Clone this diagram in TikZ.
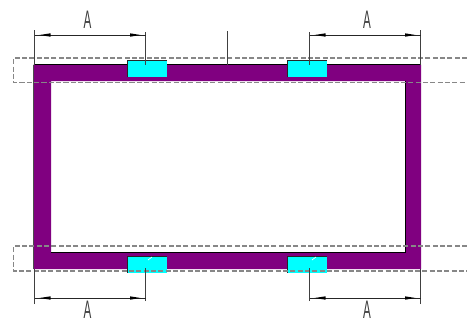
\documentclass[tikz,border=0pt]{standalone}
\usepackage{fontspec}
\setmainfont{Liberation Sans}
\definecolor{wall}{RGB}{128,0,128}
\definecolor{pad}{RGB}{0,255,255}
\definecolor{dashgrey}{RGB}{135,135,135}
\tikzset{
  x=0.75pt,y=-0.75pt,
  padbox/.style={fill=pad,draw=none,minimum width=29.25pt,minimum height=12.4pt,inner sep=0pt,outer sep=0pt,anchor=north west},
  dimlabel/.style={inner sep=0pt,text=black!75,font=\fontsize{19}{19}\selectfont},
  extline/.style={draw=black!75,line width=0.6pt},
  dimline/.style={draw=black!85,line width=0.6pt},
  dashline/.style={draw=dashgrey,line width=0.8pt,dash pattern=on 3.8pt off 1.7pt},
  padedge/.style={draw=black!85,line width=0.5pt},
  head/.style={fill=black,draw=none},
}
\begin{document}
\begin{tikzpicture}
\useasboundingbox (0,0) rectangle (467,322);
% frame
\fill[wall,even odd rule] (33.5,64.5) rectangle (421,269) (51,81) rectangle (405,252);
\draw[black,line width=0.7pt] (33.5,64.5) -- (421,64.5);
\draw[black!70,line width=0.5pt] (33.5,64.5) -- (33.5,269);
\draw[black,line width=0.7pt] (51,252) -- (405,252) -- (405,81);
% cyan pads
\node[padbox] (p1) at (127.7,60.5) {};
\node[padbox] (p2) at (287.7,60.5) {};
\node[padbox] (p3) at (127.7,256) {};
\node[padbox] (p4) at (287.7,256) {};
\draw[padedge] (p1.south west) -- (p1.north west) -- (p1.north east);
\draw[padedge] (p2.south west) -- (p2.north west) -- (p2.north east);
\draw[padedge] (p3.south west) -- (p3.north west) -- (p3.north east);
\draw[padedge] (p4.south west) -- (p4.north west) -- (p4.north east);
\draw[white,line width=0.5pt] (148,260) -- (152,257);
\draw[white,line width=0.5pt] (312,260) -- (316,257);
% dashed band outlines
\draw[dashline] (467,58) -- (13.5,58) -- (13.5,82.5) -- (467,82.5);
\draw[dashline] (467,246) -- (13.5,246) -- (13.5,271) -- (467,271);
% extension lines
\coordinate (tl1) at (34.5,30);  \coordinate (tl1e) at (34.5,65);
\coordinate (tl2) at (145.5,32); \coordinate (tl2e) at (145.5,65);
\coordinate (tc)  at (227.5,31); \coordinate (tce)  at (227.5,65);
\coordinate (tr1) at (309.5,32); \coordinate (tr1e) at (309.5,65);
\coordinate (tr2) at (420.5,30); \coordinate (tr2e) at (420.5,65);
\coordinate (bl1) at (34.5,304);  \coordinate (bl1e) at (34.5,269);
\coordinate (bl2) at (145.5,301); \coordinate (bl2e) at (145.5,268);
\coordinate (br1) at (309.5,301); \coordinate (br1e) at (309.5,268);
\coordinate (br2) at (420.5,304); \coordinate (br2e) at (420.5,269);
\foreach \a/\b in {tl1/tl1e,tl2/tl2e,tc/tce,tr1/tr1e,tr2/tr2e,bl1/bl1e,bl2/bl2e,br1/br1e,br2/br2e}{
  \draw[extline] (\a) -- (\b);
}
% dimension lines and heads
\foreach \xa/\xb/\yy in {34.5/146/35,309.5/421/35,34.5/146/298,309.5/421/298}{
  \draw[dimline] (\xa,\yy) -- (\xb,\yy);
  \fill[head] (\xa+5,\yy) -- (\xa+16,\yy-1.7) -- (\xa+16,\yy+1.7) -- cycle;
  \fill[head] (\xb-5.5,\yy) -- (\xb-16,\yy-1.7) -- (\xb-16,\yy+1.7) -- cycle;
}
% labels
\node[dimlabel] (a1) at (87.5,19.5) {\scalebox{0.46}[1]{A}};
\node[dimlabel] (a2) at (367,19.5) {\scalebox{0.46}[1]{A}};
\node[dimlabel] (a3) at (87.5,309.5) {\scalebox{0.46}[1]{A}};
\node[dimlabel] (a4) at (367,309.5) {\scalebox{0.46}[1]{A}};
\end{tikzpicture}
\end{document}
